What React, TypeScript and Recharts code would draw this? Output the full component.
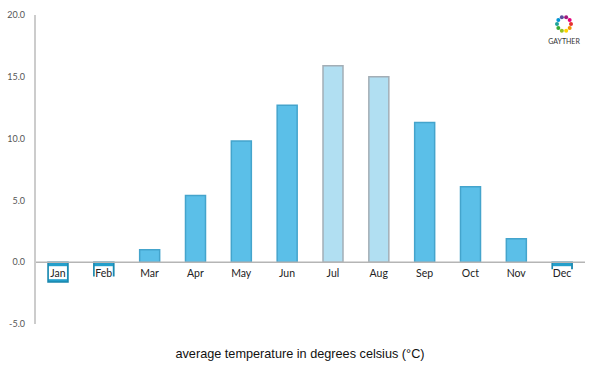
import { ComposedChart, Bar, Line, Cell, XAxis, YAxis, ReferenceLine, LabelList } from 'recharts'

const months = ['Jan', 'Feb', 'Mar', 'Apr', 'May', 'Jun', 'Jul', 'Aug', 'Sep', 'Oct', 'Nov', 'Dec']
const temperatures = [-1.6, -1.1, 1.0, 5.4, 9.8, 12.7, 15.9, 15.0, 11.3, 6.1, 1.9, -0.5]
const summerMonths = ['Jul', 'Aug']
const yTicks = [-5, 0, 5, 10, 15, 20]

const data = months.map((month, i) => ({ month, temp: temperatures[i] }))

const logoColors = ['#e6312f', '#f39200', '#ffd400', '#95c11f', '#3aaa35', '#1fa39a', '#0094d3', '#5b4d9d', '#a1197d', '#e5007d']

function barColors(month: string, value: number) {
  if (summerMonths.includes(month)) return { fill: '#b1dff2', stroke: '#a3aeb6' }
  if (value < 0) return { fill: '#239fcb', stroke: '#1a86ad' }
  return { fill: '#5bbfe8', stroke: '#44a4cc' }
}

// month names sit on the zero line, drawn with a white box behind them
const MonthLabel = (props: any) => {
  const { x, y, index } = props
  if (x == null || y == null) return null
  return (
    <g>
      <rect x={x - 9} y={y + 4} width={18} height={13} fill="#fff" />
      <text x={x} y={y + 15} textAnchor="middle" fontSize={10.5} fill="#222" fontFamily="Lato, sans-serif">
        {months[index]}
      </text>
    </g>
  )
}

function Logo() {
  const cx = 16
  const cy = 10
  return (
    <svg width={40} height={34} style={{ position: 'absolute', left: 544, top: 14 }}>
      {logoColors.map((c, i) => {
        const a = (i / logoColors.length) * Math.PI * 2
        return <circle key={i} cx={cx + 4 + Math.cos(a) * 7} cy={cy + Math.sin(a) * 7} r={2} fill={c} />
      })}
      <text x={20} y={30} textAnchor="middle" fontSize={7} fill="#333" fontFamily="Lato, sans-serif">GAYTHER</text>
    </svg>
  )
}

export default function App() {
  return (
    <div style={{ position: 'absolute', left: 0, top: 0, width: 600, height: 375, background: '#fff' }}>
      <ComposedChart width={600} height={375} data={data} margin={{ top: 15, right: 15, bottom: 51, left: 0 }}>
        <XAxis dataKey="month" hide />
        <YAxis
          width={35}
          domain={[-5, 20]}
          ticks={yTicks}
          tickFormatter={(v: number) => v.toFixed(1)}
          axisLine={{ stroke: '#cccccc', strokeWidth: 2 }}
          tickLine={false}
          tickMargin={4}
          tick={{ fontSize: 9, fill: '#555', fontFamily: 'Lato, sans-serif' }}
        />
        <ReferenceLine y={0} stroke="#b5b5b5" strokeWidth={1.5} />
        <Bar dataKey="temp" barSize={20} isAnimationActive={false}>
          {data.map((d, i) => {
            const c = barColors(d.month, d.temp)
            return <Cell key={`cell-${i}`} fill={c.fill} stroke={c.stroke} strokeWidth={1.5} />
          })}
        </Bar>
        <Line dataKey={() => 0} stroke="none" dot={false} activeDot={false} isAnimationActive={false}>
          <LabelList content={<MonthLabel />} />
        </Line>
      </ComposedChart>
      <Logo />
      <div
        style={{
          position: 'absolute',
          left: 0,
          top: 347,
          width: 600,
          textAlign: 'center',
          fontFamily: '"Liberation Sans", Arial, sans-serif',
          fontSize: 12.7,
          color: '#111',
        }}
      >
        average temperature in degrees celsius (°C)
      </div>
    </div>
  )
}
